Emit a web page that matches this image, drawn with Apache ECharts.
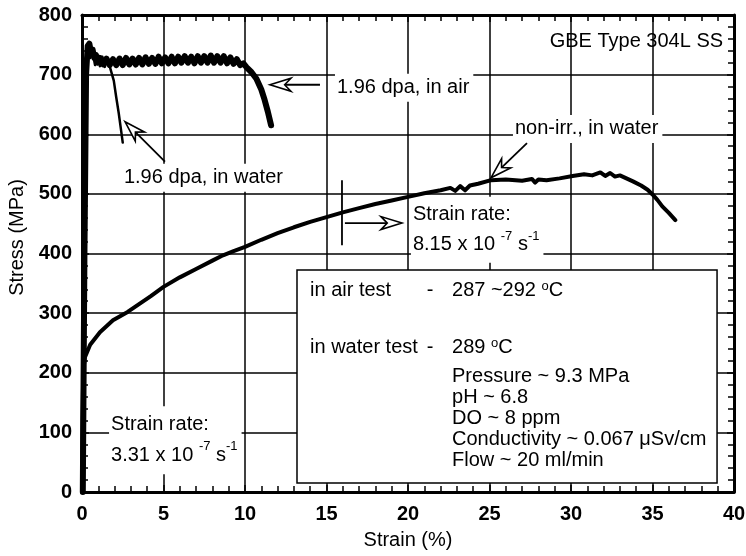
<!DOCTYPE html>
<html>
<head>
<meta charset="utf-8">
<script src="https://cdn.jsdelivr.net/npm/echarts@6/dist/echarts.min.js"></script>
<style>
  html, body { margin: 0; padding: 0; background: #fff; }
  #chart { width: 746px; height: 556px; }
</style>
</head>
<body>
<div id="chart"></div>
<script>
// Stress-strain curves, GBE Type 304L SS, [strain %, stress MPa]
const nonIrrWater = [
  [0, 0], [0.03, 120], [0.08, 205], [0.18, 226], [0.5, 247], [1.1, 268], [1.9, 288],
  [2.8, 302], [3.5, 315], [4.2, 328], [5, 344], [6, 360], [7, 374], [8, 388],
  [8.65, 397], [9.3, 404], [10, 411], [11, 423], [12, 434], [13, 444], [14, 453],
  [15, 461], [16, 469], [17, 476], [18, 483], [19, 489], [20, 495], [21, 501],
  [22, 506], [22.6, 510], [22.9, 505], [23.2, 513], [23.5, 506], [23.8, 514],
  [24.3, 517], [25.1, 523], [26, 524], [27, 522], [27.6, 525], [27.8, 519], [28, 524],
  [28.5, 523], [29.3, 526], [30.1, 530], [30.8, 533], [31.3, 531], [31.8, 536],
  [32.1, 530], [32.4, 535], [32.7, 529], [33, 531], [33.4, 526], [33.8, 521],
  [34.3, 514], [34.7, 507], [35, 499], [35.3, 490], [35.6, 479], [36, 468], [36.4, 456]
];

// serrated flow of the irradiated specimen in air
const irrAir = [
  [0.05, 0], [0.15, 400], [0.25, 700], [0.35, 748], [0.45, 752], [0.55, 738], [0.65, 742],
  [0.75, 728], [0.85, 733], [0.95, 720], [1.1, 728], [1.3, 717], [1.5, 727], [1.7, 716],
  [1.9, 726], [2.1, 716], [2.3, 727], [2.5, 716], [2.7, 728], [2.9, 717], [3.1, 727],
  [3.3, 717], [3.5, 728], [3.7, 717], [3.9, 729], [4.1, 718], [4.3, 728], [4.5, 718],
  [4.7, 730], [4.9, 719], [5.1, 729], [5.3, 719], [5.5, 730], [5.7, 719], [5.9, 730],
  [6.1, 720], [6.3, 731], [6.5, 720], [6.7, 730], [6.9, 719], [7.1, 731], [7.3, 720],
  [7.5, 731], [7.7, 720], [7.9, 732], [8.1, 720], [8.3, 731], [8.5, 720], [8.7, 731],
  [8.9, 719], [9.1, 729], [9.3, 718], [9.5, 726], [9.7, 716], [9.9, 719], [10.1, 712],
  [10.4, 704], [10.7, 693], [11.0, 675], [11.2, 658], [11.4, 638], [11.6, 615]
];

const irrWater = [
  [0.05, 0], [0.15, 400], [0.25, 700], [0.35, 742], [0.5, 728], [0.65, 738], [0.8, 716],
  [0.95, 733], [1.1, 714], [1.25, 730], [1.4, 713], [1.55, 728], [1.7, 714], [1.8, 712],
  [1.95, 690], [2.1, 662], [2.25, 636], [2.4, 606], [2.5, 586]
];

const FONT = "'Liberation Sans', Arial, Helvetica, sans-serif";

// Text annotations, anchored in [strain, stress]
const notes = [
  { at: [39.33, 756], text: 'GBE Type 304L SS', align: 'right' },
  { at: [15.52, 678], text: '1.96 dpa, in air', bg: true },
  { at: [2.45, 527], text: '1.96 dpa, in water', bg: true },
  { at: [26.44, 609], text: 'non-irr., in water', bg: true },
  { at: [20.18, 440], text: 'Strain rate:\n8.15 x 10 {sup|-7} s{sup|-1}', bg: true, lh: 30 },
  { at: [1.66, 87], text: 'Strain rate:\n3.31 x 10 {sup|-7} s{sup|-1}', bg: true, lh: 31 },
  // conditions box
  { at: [13.99, 338], text: 'in air test' },
  { at: [21.15, 338], text: '-' },
  { at: [22.7, 338], text: '287 ~292 {sup|o}C' },
  { at: [13.99, 242], text: 'in water test' },
  { at: [21.15, 242], text: '-' },
  { at: [22.7, 242], text: '289 {sup|o}C' },
  { at: [22.7, 193], text: 'Pressure ~ 9.3 MPa' },
  { at: [22.7, 158], text: 'pH ~ 6.8' },
  { at: [22.7, 123], text: 'DO ~ 8 ppm' },
  { at: [22.7, 88], text: 'Conductivity ~ 0.067 \u03bcSv/cm' },
  { at: [22.7, 53], text: 'Flow ~ 20 ml/min' }
];

// Leader arrows (from -> tip) and the strain-rate change marker
const arrows = [
  { from: [14.6, 683], to: [11.53, 683] },
  { from: [5.09, 554], to: [2.64, 621] },
  { from: [27.3, 585], to: [25.09, 527] },
  { from: [16.13, 451], to: [19.63, 451] }
];
const rateMarker = [[15.95, 523], [15.95, 414]];
const condBox = [[13.19, 372.3], [38.96, 15.1]];

const chart = echarts.init(document.getElementById('chart'), null, { renderer: 'canvas' });

function axisBase(showLabels, position, isX) {
  return {
    type: 'value', min: 0, max: isX ? 40 : 800, interval: isX ? 5 : 100,
    position: position,
    axisLine: { show: true, onZero: false, lineStyle: { color: '#000', width: 3 } },
    axisTick: { show: true, inside: true, length: 7, lineStyle: { color: '#000', width: 1.5 } },
    minorTick: { show: true, splitNumber: 5, length: 6, lineStyle: { color: '#000', width: 1.5 } },
    splitLine: { show: showLabels, lineStyle: { color: '#000', width: 1.5 } },
    minorSplitLine: { show: false },
    axisLabel: {
      show: showLabels, color: '#000', fontSize: 20, fontWeight: 'bold', fontFamily: FONT,
      margin: isX ? 12 : 10
    }
  };
}

const xMain = Object.assign(axisBase(true, 'bottom', true), {
  name: 'Strain (%)', nameLocation: 'middle', nameGap: 38,
  nameTextStyle: { color: '#000', fontSize: 20, fontFamily: FONT }
});
const yMain = Object.assign(axisBase(true, 'left', false), {
  name: 'Stress (MPa)', nameLocation: 'middle', nameGap: 54, nameRotate: 90,
  nameTextStyle: { color: '#000', fontSize: 20, fontFamily: FONT, padding: [0, 0, 0, 32] }
});

function curve(name, data, width) {
  return {
    name: name, type: 'line', data: data, xAxisIndex: 0, yAxisIndex: 0,
    showSymbol: false, symbol: 'none', smooth: false, clip: true,
    lineStyle: { color: '#000', width: width, join: 'round', cap: 'round' },
    emphasis: { disabled: true }, z: 2
  };
}

chart.setOption({
  animation: false,
  backgroundColor: '#fff',
  grid: { left: 82, right: 12, top: 15, bottom: 64, containLabel: false, outerBoundsMode: 'none' },
  xAxis: [xMain, axisBase(false, 'top', true)],
  yAxis: [yMain, axisBase(false, 'right', false)],
  series: [
    curve('non-irr., in water', nonIrrWater, 4),
    curve('1.96 dpa, in water', irrWater, 2.5),
    curve('1.96 dpa, in air', irrAir, 6)
  ]
});

const px = p => chart.convertToPixel({ seriesIndex: 0 }, p);
const graphics = [];
const sup = { fontSize: 13, fontFamily: FONT, fill: '#000', verticalAlign: 'top', lineHeight: 13 };

// conditions box
const b0 = px(condBox[0]), b1 = px(condBox[1]);
graphics.push({
  type: 'rect', z: 1,
  shape: { x: b0[0], y: b0[1], width: b1[0] - b0[0], height: b1[1] - b0[1] },
  style: { fill: '#fff', stroke: '#000', lineWidth: 1.5 }
});

notes.forEach(n => {
  const p = px(n.at);
  const lh = n.lh || 22;
  graphics.push({
    type: 'text', z: n.bg ? 1 : 3, x: p[0], y: p[1],
    style: {
      text: n.text, fill: '#000', fontSize: 20, fontFamily: FONT,
      align: n.align || 'left', verticalAlign: 'middle', lineHeight: lh,
      backgroundColor: n.bg ? '#fff' : null, padding: n.bg ? [3, 4, 3, 2] : 0,
      rich: { sup: sup }
    }
  });
});

arrows.forEach(a => {
  const s = px(a.from), t = px(a.to);
  const dx = t[0] - s[0], dy = t[1] - s[1];
  const len = Math.hypot(dx, dy), ux = dx / len, uy = dy / len, nx = -uy, ny = ux;
  const L = 21, W = 6.5;
  const back = [t[0] - ux * L, t[1] - uy * L];
  const notch = [t[0] - ux * L * 0.7, t[1] - uy * L * 0.7];
  graphics.push({
    type: 'line', z: 3,
    shape: { x1: s[0], y1: s[1], x2: notch[0], y2: notch[1] },
    style: { stroke: '#000', lineWidth: 1.8 }
  });
  graphics.push({
    type: 'polygon', z: 3,
    shape: { points: [t, [back[0] + nx * W, back[1] + ny * W], notch, [back[0] - nx * W, back[1] - ny * W]] },
    style: { fill: '#fff', stroke: '#000', lineWidth: 1.6, lineJoin: 'miter' }
  });
});

const m0 = px(rateMarker[0]), m1 = px(rateMarker[1]);
graphics.push({
  type: 'line', z: 3,
  shape: { x1: m0[0], y1: m0[1], x2: m1[0], y2: m1[1] },
  style: { stroke: '#000', lineWidth: 1.8 }
});

chart.setOption({ graphic: graphics });
</script>
</body>
</html>
